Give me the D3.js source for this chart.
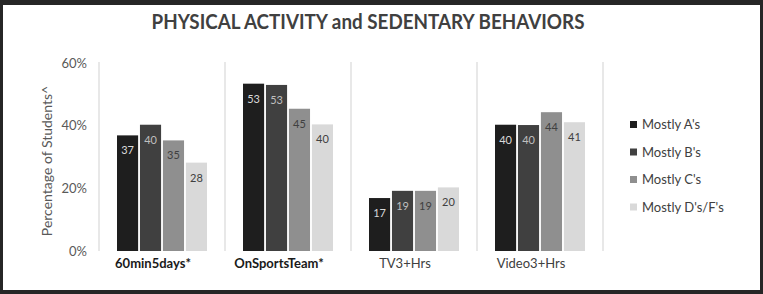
<!DOCTYPE html>
<html>
<head>
<meta charset="utf-8">
<script src="https://cdn.jsdelivr.net/npm/d3@7"></script>
<style>
  html, body { margin: 0; padding: 0; background: #262626; }
  svg { display: block; }
  text { font-family: Lato, "Open Sans", sans-serif; }
</style>
</head>
<body>
<svg class="chart"></svg>
<script>
// data
var categories = ['60min5days*', 'OnSportsTeam*', 'TV3+Hrs', 'Video3+Hrs'];
var boldCategories = ['60min5days*', 'OnSportsTeam*'];
var seriesNames = ["Mostly A's", "Mostly B's", "Mostly C's", "Mostly D's/F's"];
var mostlyA = [36.9, 53.4, 16.9, 40.3];
var mostlyB = [40.3, 53.0, 19.2, 40.2];
var mostlyC = [35.3, 45.4, 19.2, 44.3];
var mostlyDF = [28.2, 40.4, 20.3, 41.1];
var yTicks = [0, 20, 40, 60];

var seriesValues = [mostlyA, mostlyB, mostlyC, mostlyDF];
var barColors = ['#1e1e1e', '#404040', '#8f8f8f', '#d9d9d9'];
var labelColors = ['#d9d9d9', '#bfbfbf', '#404040', '#404040'];

var W = 763, H = 294;
var svg = d3.select('.chart').attr('width', W).attr('height', H);

// white panel inside the dark frame
svg.append('rect')
    .attr('x', 3).attr('y', 5)
    .attr('width', W - 6).attr('height', H - 9)
    .attr('fill', '#fff');

// title, squeezed to match the narrow original face
var title = svg.append('text')
    .attr('x', 368).attr('y', 29)
    .attr('text-anchor', 'middle')
    .attr('font-size', 20)
    .attr('font-weight', 'bold')
    .attr('fill', '#404040')
    .text('PHYSICAL ACTIVITY and SEDENTARY BEHAVIORS');
var tw = title.node().getComputedTextLength();
if (tw > 433) title.attr('textLength', 433).attr('lengthAdjust', 'spacingAndGlyphs');

// scales
var x = d3.scaleBand().domain(categories).range([99, 603]).padding(0);
var xInner = d3.scaleBand().domain(seriesNames)
    .range([18, x.bandwidth() - 18]).paddingInner(0.08);
var y = d3.scaleLinear().domain([0, 60]).range([251, 63]);

// separators between categories
var sepX = categories.map(function (c) { return x(c); }).concat([x.range()[1]]);
svg.append('g').selectAll('line').data(sepX)
    .enter().append('line')
    .attr('x1', function (d) { return d; })
    .attr('x2', function (d) { return d; })
    .attr('y1', y(60) - 1).attr('y2', y(0))
    .attr('stroke', '#d9d9d9').attr('stroke-width', 1.2);

// y axis (labels only)
var yAxis = d3.axisLeft(y).tickValues(yTicks)
    .tickFormat(function (d) { return d + '%'; })
    .tickSize(0).tickPadding(0);
var ya = svg.append('g').attr('transform', 'translate(87,0)').call(yAxis);
ya.select('.domain').remove();
ya.selectAll('text')
    .attr('font-size', 13).attr('fill', '#595959')
    .style('font-family', 'Lato, "Open Sans", sans-serif');

svg.append('text')
    .attr('transform', 'translate(52,161) rotate(-90)')
    .attr('text-anchor', 'middle')
    .attr('font-size', 14)
    .attr('fill', '#595959')
    .text('Percentage of Students^');

// bars, one group per category
var groups = svg.selectAll('g.cat').data(categories)
    .enter().append('g')
    .attr('class', 'cat')
    .attr('transform', function (d) { return 'translate(' + x(d) + ',0)'; });

var fmt = d3.format('.0f');
groups.each(function (cat, ci) {
    var g = d3.select(this);
    var rows = seriesNames.map(function (s, si) {
        return { series: s, si: si, value: seriesValues[si][ci] };
    });
    g.selectAll('rect').data(rows)
        .enter().append('rect')
        .attr('x', function (d) { return xInner(d.series); })
        .attr('y', function (d) { return y(d.value); })
        .attr('width', xInner.bandwidth())
        .attr('height', function (d) { return y(0) - y(d.value); })
        .attr('fill', function (d) { return barColors[d.si]; });
    g.selectAll('text.val').data(rows)
        .enter().append('text')
        .attr('class', 'val')
        .attr('x', function (d) { return xInner(d.series) + xInner.bandwidth() / 2; })
        .attr('y', function (d) { return y(d.value) + 19; })
        .attr('text-anchor', 'middle')
        .attr('font-size', 11)
        .attr('fill', function (d) { return labelColors[d.si]; })
        .text(function (d) { return fmt(d.value); });
});

// category labels
svg.append('g').selectAll('text').data(categories)
    .enter().append('text')
    .attr('x', function (d) { return x(d) + x.bandwidth() / 2 - 9; })
    .attr('y', 268)
    .attr('text-anchor', 'middle')
    .attr('font-size', 13)
    .attr('font-weight', function (d) { return boldCategories.indexOf(d) >= 0 ? 'bold' : 'normal'; })
    .attr('fill', function (d) { return boldCategories.indexOf(d) >= 0 ? '#1a1a1a' : '#404040'; })
    .text(function (d) { return d; });

// legend
var legend = svg.append('g').selectAll('g').data(seriesNames)
    .enter().append('g')
    .attr('transform', function (d, i) { return 'translate(630,' + (121 + i * 27.5) + ')'; });
legend.append('rect')
    .attr('width', 7).attr('height', 7)
    .attr('fill', function (d, i) { return barColors[i]; });
legend.append('text')
    .attr('x', 12).attr('y', 8)
    .attr('font-size', 13)
    .attr('fill', '#404040')
    .text(function (d) { return d; });
</script>
</body>
</html>
